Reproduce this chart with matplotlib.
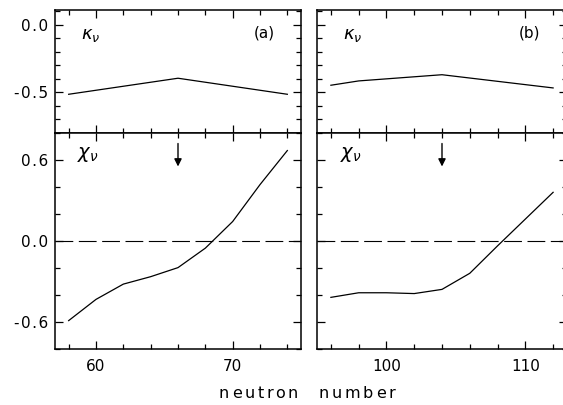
import matplotlib
matplotlib.use('Agg')
from matplotlib import pyplot as plt
from matplotlib.ticker import MultipleLocator
from matplotlib.font_manager import FontProperties
import numpy as np

# data
n_a = [58, 60, 62, 64, 66, 68, 70, 72, 74]
chi_a = [-0.59, -0.433, -0.32, -0.265, -0.198, -0.054, 0.143, 0.416, 0.668]
n_kappa_a = [58, 66, 74]
kappa_a = [-0.515, -0.396, -0.515]
arrow_a = 66

n_b = [96, 98, 100, 102, 104, 106, 108, 110, 112]
chi_b = [-0.418, -0.384, -0.384, -0.39, -0.359, -0.24, -0.037, 0.161, 0.359]
n_kappa_b = [96, 98, 104, 112]
kappa_b = [-0.448, -0.416, -0.37, -0.468]
arrow_b = 104

kappa_ticks = [-0.5, 0.0]
chi_ticks = [-0.6, 0.0, 0.6]

plt.rcParams['font.family'] = ['DejaVu Sans']
plt.rcParams['mathtext.fontset'] = 'dejavusans'

W, H = 563, 405
fig = plt.figure(figsize=(W / 100, H / 100), dpi=100)

def fx(px):
    return px / W

def fy(py):
    return 1 - py / H

# loosely spaced tick labels like the original typesetting
def spaced(v):
    return '\u200a'.join('%.1f' % v)

top, mid, bot = 10, 132.7, 349
panels = [
    dict(x0=55, w=246, xlim=(57, 75), major=(60, 70), n=n_a, chi=chi_a,
         nk=n_kappa_a, k=kappa_a, arrow=arrow_a, tag='(a)', ylab=True),
    dict(x0=317, w=250, xlim=(95, 113), major=(100, 110), n=n_b, chi=chi_b,
         nk=n_kappa_b, k=kappa_b, arrow=arrow_b, tag='(b)', ylab=False),
]


def style(ax, p, xlabels):
    ax.set_xlim(*p['xlim'])
    ax.set_xticks(p['major'])
    ax.xaxis.set_minor_locator(MultipleLocator(2))
    ax.tick_params(which='both', direction='in', top=True, right=True,
                   width=0.9, colors='k', labelsize=11)
    ax.tick_params(which='major', length=6)
    ax.tick_params(which='minor', length=3.5)
    ax.tick_params(axis='x', pad=7, labelbottom=xlabels)
    ax.tick_params(axis='y', pad=5, labelleft=p['ylab'])
    for s in ax.spines.values():
        s.set_linewidth(1.1)


for p in panels:
    ax_k = fig.add_axes([fx(p['x0']), fy(mid), fx(p['w']), fy(top) - fy(mid)])
    ax_c = fig.add_axes([fx(p['x0']), fy(bot), fx(p['w']), fy(mid) - fy(bot)])

    # kappa panel
    ax_k.plot(p['nk'], p['k'], color='k', lw=0.9)
    ax_k.set_ylim(-0.8, 0.11)
    ax_k.set_yticks(kappa_ticks)
    ax_k.set_yticklabels([spaced(v) for v in kappa_ticks])
    ax_k.yaxis.set_minor_locator(MultipleLocator(0.1))
    style(ax_k, p, False)
    ax_k.text(0.105, 0.8, r'$\kappa_\nu$', transform=ax_k.transAxes,
              fontsize=13, ha='left', va='center')
    ax_k.text(0.85, 0.81, p['tag'], transform=ax_k.transAxes,
              fontsize=11, ha='center', va='center')

    # chi panel
    ax_c.plot(p['n'], p['chi'], color='k', lw=0.9)
    ax_c.axhline(0.0, color='k', lw=0.8, dashes=(16, 5))
    ax_c.set_ylim(-0.8, 0.8)
    ax_c.set_yticks(chi_ticks)
    ax_c.set_yticklabels([spaced(v) for v in chi_ticks])
    ax_c.yaxis.set_minor_locator(MultipleLocator(0.2))
    style(ax_c, p, True)
    ax_c.text(0.09, 0.9, r'$\chi_\nu$', transform=ax_c.transAxes,
              fontsize=14, ha='left', va='center')
    ax_c.annotate('', xy=(p['arrow'], 0.55), xytext=(p['arrow'], 0.72),
                  arrowprops=dict(arrowstyle='-|>', color='k', lw=1.0,
                                  mutation_scale=11, shrinkA=0, shrinkB=0))

# letter-spaced axis label
renderer = fig.canvas.get_renderer()
prop = FontProperties(family='DejaVu Sans', size=11.5)
for word, x_start in [('neutron', 219), ('number', 319)]:
    x = x_start
    for ch in word:
        w, h, d = renderer.get_text_width_height_descent(ch, prop, ismath=False)
        fig.text(fx(x), fy(398), ch, fontproperties=prop,
                 ha='left', va='baseline')
        x += w + 2.6

fig.savefig('out.png', dpi=100)
